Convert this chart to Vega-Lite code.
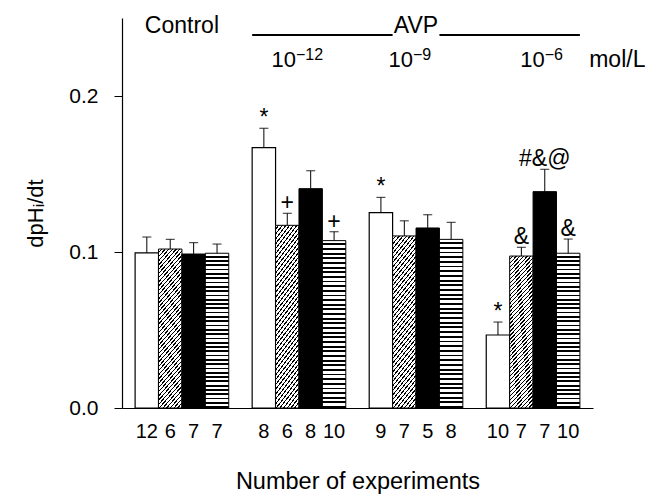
{
  "$schema": "https://vega.github.io/schema/vega-lite/v6.json",
  "width": 471,
  "height": 390,
  "autosize": {"type": "none"},
  "padding": {"left": 122, "top": 18, "right": 57, "bottom": 86},
  "config": {"font": "Liberation Sans", "view": {"stroke": null}},
  "datasets": {
    "bars": [
      {"slot": "Control:white:12", "pattern": "white", "mean": 0.0994, "hi": 0.1096, "sig": ""},
      {"slot": "Control:diag:6", "pattern": "diag", "mean": 0.1019, "hi": 0.1081, "sig": ""},
      {"slot": "Control:black:7", "pattern": "black", "mean": 0.0987, "hi": 0.106, "sig": ""},
      {"slot": "Control:horiz:7", "pattern": "horiz", "mean": 0.0992, "hi": 0.1051, "sig": ""},
      {"slot": "1e-12:white:8", "pattern": "white", "mean": 0.1669, "hi": 0.1793, "sig": "*"},
      {"slot": "1e-12:diag:6", "pattern": "diag", "mean": 0.1171, "hi": 0.1248, "sig": "+"},
      {"slot": "1e-12:black:8", "pattern": "black", "mean": 0.1406, "hi": 0.1521, "sig": ""},
      {"slot": "1e-12:horiz:10", "pattern": "horiz", "mean": 0.1073, "hi": 0.113, "sig": "+"},
      {"slot": "1e-9:white:9", "pattern": "white", "mean": 0.1252, "hi": 0.135, "sig": "*"},
      {"slot": "1e-9:diag:7", "pattern": "diag", "mean": 0.1103, "hi": 0.12, "sig": ""},
      {"slot": "1e-9:black:5", "pattern": "black", "mean": 0.1154, "hi": 0.1239, "sig": ""},
      {"slot": "1e-9:horiz:8", "pattern": "horiz", "mean": 0.1081, "hi": 0.119, "sig": ""},
      {"slot": "1e-6:white:10", "pattern": "white", "mean": 0.0468, "hi": 0.0551, "sig": "*"},
      {"slot": "1e-6:diag:7", "pattern": "diag", "mean": 0.0974, "hi": 0.103, "sig": "&"},
      {"slot": "1e-6:black:7", "pattern": "black", "mean": 0.1387, "hi": 0.153, "sig": "#&@"},
      {"slot": "1e-6:horiz:10", "pattern": "horiz", "mean": 0.0992, "hi": 0.1083, "sig": "&"}
    ]
  },
  "encoding": {
    "x": {
      "field": "slot",
      "type": "nominal",
      "scale": {
        "type": "band",
        "domain": ["Control:white:12", "Control:diag:6", "Control:black:7", "Control:horiz:7", "gap1::",
                   "1e-12:white:8", "1e-12:diag:6", "1e-12:black:8", "1e-12:horiz:10", "gap2::",
                   "1e-9:white:9", "1e-9:diag:7", "1e-9:black:5", "1e-9:horiz:8", "gap3::",
                   "1e-6:white:10", "1e-6:diag:7", "1e-6:black:7", "1e-6:horiz:10"],
        "paddingInner": 0,
        "paddingOuter": 0.56
      },
      "axis": {
        "title": "Number of experiments",
        "labelExpr": "split(datum.value, ':')[2]",
        "labelAngle": 0,
        "ticks": false,
        "labelPadding": 13,
        "labelFontSize": 20,
        "labelColor": "black",
        "domainColor": "black",
        "domainWidth": 1.2,
        "titleFontSize": 23.5,
        "titleFontWeight": "normal",
        "titleColor": "black",
        "titlePadding": 28
      }
    }
  },
  "layer": [
    {
      "data": {"name": "bars"},
      "transform": [{"filter": "datum.pattern === 'white'"}],
      "mark": {"type": "bar", "fill": "white", "stroke": "black", "strokeWidth": 1.2},
      "encoding": {
        "y": {
          "field": "mean",
          "type": "quantitative",
          "scale": {"domain": [0, 0.25], "nice": false},
          "axis": {
            "title": "dpHᵢ/dt",
            "values": [0, 0.1, 0.2],
            "format": ".1f",
            "grid": false,
            "tickSize": 8,
            "tickColor": "black",
            "domainColor": "black",
            "domainWidth": 1.2,
            "labelPadding": 16,
            "labelFontSize": 21,
            "labelColor": "black",
            "titleFontSize": 22,
            "titleFontWeight": "normal",
            "titleColor": "black",
            "titlePadding": 21
          }
        }
      }
    },
    {
      "data": {"name": "bars"},
      "transform": [{"filter": "datum.pattern === 'diag'"}],
      "mark": {
        "type": "bar",
        "stroke": "black",
        "strokeWidth": 1,
        "fill": {
          "gradient": "linear", "x1": 0, "y1": 0, "x2": 0.192, "y2": 1.1365,
          "stops": [
            {"offset":0,"color":"#fff"},{"offset":0.01477,"color":"#fff"},{"offset":0.01477,"color":"#000"},{"offset":0.02273,"color":"#000"},
            {"offset":0.02273,"color":"#fff"},{"offset":0.0375,"color":"#fff"},{"offset":0.0375,"color":"#000"},{"offset":0.04545,"color":"#000"},
            {"offset":0.04545,"color":"#fff"},{"offset":0.06023,"color":"#fff"},{"offset":0.06023,"color":"#000"},{"offset":0.06818,"color":"#000"},
            {"offset":0.06818,"color":"#fff"},{"offset":0.08295,"color":"#fff"},{"offset":0.08295,"color":"#000"},{"offset":0.09091,"color":"#000"},
            {"offset":0.09091,"color":"#fff"},{"offset":0.10568,"color":"#fff"},{"offset":0.10568,"color":"#000"},{"offset":0.11364,"color":"#000"},
            {"offset":0.11364,"color":"#fff"},{"offset":0.12841,"color":"#fff"},{"offset":0.12841,"color":"#000"},{"offset":0.13636,"color":"#000"},
            {"offset":0.13636,"color":"#fff"},{"offset":0.15114,"color":"#fff"},{"offset":0.15114,"color":"#000"},{"offset":0.15909,"color":"#000"},
            {"offset":0.15909,"color":"#fff"},{"offset":0.17386,"color":"#fff"},{"offset":0.17386,"color":"#000"},{"offset":0.18182,"color":"#000"},
            {"offset":0.18182,"color":"#fff"},{"offset":0.19659,"color":"#fff"},{"offset":0.19659,"color":"#000"},{"offset":0.20455,"color":"#000"},
            {"offset":0.20455,"color":"#fff"},{"offset":0.21932,"color":"#fff"},{"offset":0.21932,"color":"#000"},{"offset":0.22727,"color":"#000"},
            {"offset":0.22727,"color":"#fff"},{"offset":0.24205,"color":"#fff"},{"offset":0.24205,"color":"#000"},{"offset":0.25,"color":"#000"},
            {"offset":0.25,"color":"#fff"},{"offset":0.26477,"color":"#fff"},{"offset":0.26477,"color":"#000"},{"offset":0.27273,"color":"#000"},
            {"offset":0.27273,"color":"#fff"},{"offset":0.2875,"color":"#fff"},{"offset":0.2875,"color":"#000"},{"offset":0.29545,"color":"#000"},
            {"offset":0.29545,"color":"#fff"},{"offset":0.31023,"color":"#fff"},{"offset":0.31023,"color":"#000"},{"offset":0.31818,"color":"#000"},
            {"offset":0.31818,"color":"#fff"},{"offset":0.33295,"color":"#fff"},{"offset":0.33295,"color":"#000"},{"offset":0.34091,"color":"#000"},
            {"offset":0.34091,"color":"#fff"},{"offset":0.35568,"color":"#fff"},{"offset":0.35568,"color":"#000"},{"offset":0.36364,"color":"#000"},
            {"offset":0.36364,"color":"#fff"},{"offset":0.37841,"color":"#fff"},{"offset":0.37841,"color":"#000"},{"offset":0.38636,"color":"#000"},
            {"offset":0.38636,"color":"#fff"},{"offset":0.40114,"color":"#fff"},{"offset":0.40114,"color":"#000"},{"offset":0.40909,"color":"#000"},
            {"offset":0.40909,"color":"#fff"},{"offset":0.42386,"color":"#fff"},{"offset":0.42386,"color":"#000"},{"offset":0.43182,"color":"#000"},
            {"offset":0.43182,"color":"#fff"},{"offset":0.44659,"color":"#fff"},{"offset":0.44659,"color":"#000"},{"offset":0.45455,"color":"#000"},
            {"offset":0.45455,"color":"#fff"},{"offset":0.46932,"color":"#fff"},{"offset":0.46932,"color":"#000"},{"offset":0.47727,"color":"#000"},
            {"offset":0.47727,"color":"#fff"},{"offset":0.49205,"color":"#fff"},{"offset":0.49205,"color":"#000"},{"offset":0.5,"color":"#000"},
            {"offset":0.5,"color":"#fff"},{"offset":0.51477,"color":"#fff"},{"offset":0.51477,"color":"#000"},{"offset":0.52273,"color":"#000"},
            {"offset":0.52273,"color":"#fff"},{"offset":0.5375,"color":"#fff"},{"offset":0.5375,"color":"#000"},{"offset":0.54545,"color":"#000"},
            {"offset":0.54545,"color":"#fff"},{"offset":0.56023,"color":"#fff"},{"offset":0.56023,"color":"#000"},{"offset":0.56818,"color":"#000"},
            {"offset":0.56818,"color":"#fff"},{"offset":0.58295,"color":"#fff"},{"offset":0.58295,"color":"#000"},{"offset":0.59091,"color":"#000"},
            {"offset":0.59091,"color":"#fff"},{"offset":0.60568,"color":"#fff"},{"offset":0.60568,"color":"#000"},{"offset":0.61364,"color":"#000"},
            {"offset":0.61364,"color":"#fff"},{"offset":0.62841,"color":"#fff"},{"offset":0.62841,"color":"#000"},{"offset":0.63636,"color":"#000"},
            {"offset":0.63636,"color":"#fff"},{"offset":0.65114,"color":"#fff"},{"offset":0.65114,"color":"#000"},{"offset":0.65909,"color":"#000"},
            {"offset":0.65909,"color":"#fff"},{"offset":0.67386,"color":"#fff"},{"offset":0.67386,"color":"#000"},{"offset":0.68182,"color":"#000"},
            {"offset":0.68182,"color":"#fff"},{"offset":0.69659,"color":"#fff"},{"offset":0.69659,"color":"#000"},{"offset":0.70455,"color":"#000"},
            {"offset":0.70455,"color":"#fff"},{"offset":0.71932,"color":"#fff"},{"offset":0.71932,"color":"#000"},{"offset":0.72727,"color":"#000"},
            {"offset":0.72727,"color":"#fff"},{"offset":0.74205,"color":"#fff"},{"offset":0.74205,"color":"#000"},{"offset":0.75,"color":"#000"},
            {"offset":0.75,"color":"#fff"},{"offset":0.76477,"color":"#fff"},{"offset":0.76477,"color":"#000"},{"offset":0.77273,"color":"#000"},
            {"offset":0.77273,"color":"#fff"},{"offset":0.7875,"color":"#fff"},{"offset":0.7875,"color":"#000"},{"offset":0.79545,"color":"#000"},
            {"offset":0.79545,"color":"#fff"},{"offset":0.81023,"color":"#fff"},{"offset":0.81023,"color":"#000"},{"offset":0.81818,"color":"#000"},
            {"offset":0.81818,"color":"#fff"},{"offset":0.83295,"color":"#fff"},{"offset":0.83295,"color":"#000"},{"offset":0.84091,"color":"#000"},
            {"offset":0.84091,"color":"#fff"},{"offset":0.85568,"color":"#fff"},{"offset":0.85568,"color":"#000"},{"offset":0.86364,"color":"#000"},
            {"offset":0.86364,"color":"#fff"},{"offset":0.87841,"color":"#fff"},{"offset":0.87841,"color":"#000"},{"offset":0.88636,"color":"#000"},
            {"offset":0.88636,"color":"#fff"},{"offset":0.90114,"color":"#fff"},{"offset":0.90114,"color":"#000"},{"offset":0.90909,"color":"#000"},
            {"offset":0.90909,"color":"#fff"},{"offset":0.92386,"color":"#fff"},{"offset":0.92386,"color":"#000"},{"offset":0.93182,"color":"#000"},
            {"offset":0.93182,"color":"#fff"},{"offset":0.94659,"color":"#fff"},{"offset":0.94659,"color":"#000"},{"offset":0.95455,"color":"#000"},
            {"offset":0.95455,"color":"#fff"},{"offset":0.96932,"color":"#fff"},{"offset":0.96932,"color":"#000"},{"offset":0.97727,"color":"#000"},
            {"offset":0.97727,"color":"#fff"},{"offset":0.99205,"color":"#fff"},{"offset":0.99205,"color":"#000"},{"offset":1,"color":"#000"}
          ]
        }
      },
      "encoding": {"y": {"field": "mean", "type": "quantitative"}}
    },
    {
      "data": {"name": "bars"},
      "transform": [{"filter": "datum.pattern === 'black'"}],
      "mark": {"type": "bar", "fill": "black", "stroke": "black", "strokeWidth": 1},
      "encoding": {"y": {"field": "mean", "type": "quantitative"}}
    },
    {
      "data": {"name": "bars"},
      "transform": [{"filter": "datum.pattern === 'horiz'"}],
      "mark": {
        "type": "bar",
        "stroke": "black",
        "strokeWidth": 1,
        "fill": {
          "gradient": "linear", "x1": 0, "y1": 0, "x2": 0, "y2": 1,
          "stops": [
            {"offset":0,"color":"#fff"},{"offset":0.01667,"color":"#fff"},{"offset":0.01667,"color":"#000"},{"offset":0.02778,"color":"#000"},
            {"offset":0.02778,"color":"#fff"},{"offset":0.04444,"color":"#fff"},{"offset":0.04444,"color":"#000"},{"offset":0.05556,"color":"#000"},
            {"offset":0.05556,"color":"#fff"},{"offset":0.07222,"color":"#fff"},{"offset":0.07222,"color":"#000"},{"offset":0.08333,"color":"#000"},
            {"offset":0.08333,"color":"#fff"},{"offset":0.1,"color":"#fff"},{"offset":0.1,"color":"#000"},{"offset":0.11111,"color":"#000"},
            {"offset":0.11111,"color":"#fff"},{"offset":0.12778,"color":"#fff"},{"offset":0.12778,"color":"#000"},{"offset":0.13889,"color":"#000"},
            {"offset":0.13889,"color":"#fff"},{"offset":0.15556,"color":"#fff"},{"offset":0.15556,"color":"#000"},{"offset":0.16667,"color":"#000"},
            {"offset":0.16667,"color":"#fff"},{"offset":0.18333,"color":"#fff"},{"offset":0.18333,"color":"#000"},{"offset":0.19444,"color":"#000"},
            {"offset":0.19444,"color":"#fff"},{"offset":0.21111,"color":"#fff"},{"offset":0.21111,"color":"#000"},{"offset":0.22222,"color":"#000"},
            {"offset":0.22222,"color":"#fff"},{"offset":0.23889,"color":"#fff"},{"offset":0.23889,"color":"#000"},{"offset":0.25,"color":"#000"},
            {"offset":0.25,"color":"#fff"},{"offset":0.26667,"color":"#fff"},{"offset":0.26667,"color":"#000"},{"offset":0.27778,"color":"#000"},
            {"offset":0.27778,"color":"#fff"},{"offset":0.29444,"color":"#fff"},{"offset":0.29444,"color":"#000"},{"offset":0.30556,"color":"#000"},
            {"offset":0.30556,"color":"#fff"},{"offset":0.32222,"color":"#fff"},{"offset":0.32222,"color":"#000"},{"offset":0.33333,"color":"#000"},
            {"offset":0.33333,"color":"#fff"},{"offset":0.35,"color":"#fff"},{"offset":0.35,"color":"#000"},{"offset":0.36111,"color":"#000"},
            {"offset":0.36111,"color":"#fff"},{"offset":0.37778,"color":"#fff"},{"offset":0.37778,"color":"#000"},{"offset":0.38889,"color":"#000"},
            {"offset":0.38889,"color":"#fff"},{"offset":0.40556,"color":"#fff"},{"offset":0.40556,"color":"#000"},{"offset":0.41667,"color":"#000"},
            {"offset":0.41667,"color":"#fff"},{"offset":0.43333,"color":"#fff"},{"offset":0.43333,"color":"#000"},{"offset":0.44444,"color":"#000"},
            {"offset":0.44444,"color":"#fff"},{"offset":0.46111,"color":"#fff"},{"offset":0.46111,"color":"#000"},{"offset":0.47222,"color":"#000"},
            {"offset":0.47222,"color":"#fff"},{"offset":0.48889,"color":"#fff"},{"offset":0.48889,"color":"#000"},{"offset":0.5,"color":"#000"},
            {"offset":0.5,"color":"#fff"},{"offset":0.51667,"color":"#fff"},{"offset":0.51667,"color":"#000"},{"offset":0.52778,"color":"#000"},
            {"offset":0.52778,"color":"#fff"},{"offset":0.54444,"color":"#fff"},{"offset":0.54444,"color":"#000"},{"offset":0.55556,"color":"#000"},
            {"offset":0.55556,"color":"#fff"},{"offset":0.57222,"color":"#fff"},{"offset":0.57222,"color":"#000"},{"offset":0.58333,"color":"#000"},
            {"offset":0.58333,"color":"#fff"},{"offset":0.6,"color":"#fff"},{"offset":0.6,"color":"#000"},{"offset":0.61111,"color":"#000"},
            {"offset":0.61111,"color":"#fff"},{"offset":0.62778,"color":"#fff"},{"offset":0.62778,"color":"#000"},{"offset":0.63889,"color":"#000"},
            {"offset":0.63889,"color":"#fff"},{"offset":0.65556,"color":"#fff"},{"offset":0.65556,"color":"#000"},{"offset":0.66667,"color":"#000"},
            {"offset":0.66667,"color":"#fff"},{"offset":0.68333,"color":"#fff"},{"offset":0.68333,"color":"#000"},{"offset":0.69444,"color":"#000"},
            {"offset":0.69444,"color":"#fff"},{"offset":0.71111,"color":"#fff"},{"offset":0.71111,"color":"#000"},{"offset":0.72222,"color":"#000"},
            {"offset":0.72222,"color":"#fff"},{"offset":0.73889,"color":"#fff"},{"offset":0.73889,"color":"#000"},{"offset":0.75,"color":"#000"},
            {"offset":0.75,"color":"#fff"},{"offset":0.76667,"color":"#fff"},{"offset":0.76667,"color":"#000"},{"offset":0.77778,"color":"#000"},
            {"offset":0.77778,"color":"#fff"},{"offset":0.79444,"color":"#fff"},{"offset":0.79444,"color":"#000"},{"offset":0.80556,"color":"#000"},
            {"offset":0.80556,"color":"#fff"},{"offset":0.82222,"color":"#fff"},{"offset":0.82222,"color":"#000"},{"offset":0.83333,"color":"#000"},
            {"offset":0.83333,"color":"#fff"},{"offset":0.85,"color":"#fff"},{"offset":0.85,"color":"#000"},{"offset":0.86111,"color":"#000"},
            {"offset":0.86111,"color":"#fff"},{"offset":0.87778,"color":"#fff"},{"offset":0.87778,"color":"#000"},{"offset":0.88889,"color":"#000"},
            {"offset":0.88889,"color":"#fff"},{"offset":0.90556,"color":"#fff"},{"offset":0.90556,"color":"#000"},{"offset":0.91667,"color":"#000"},
            {"offset":0.91667,"color":"#fff"},{"offset":0.93333,"color":"#fff"},{"offset":0.93333,"color":"#000"},{"offset":0.94444,"color":"#000"},
            {"offset":0.94444,"color":"#fff"},{"offset":0.96111,"color":"#fff"},{"offset":0.96111,"color":"#000"},{"offset":0.97222,"color":"#000"},
            {"offset":0.97222,"color":"#fff"},{"offset":0.98889,"color":"#fff"},{"offset":0.98889,"color":"#000"},{"offset":1,"color":"#000"}
          ]
        }
      },
      "encoding": {"y": {"field": "mean", "type": "quantitative"}}
    },
    {
      "data": {"name": "bars"},
      "mark": {"type": "rule", "color": "black", "strokeWidth": 1},
      "encoding": {
        "y": {"field": "mean", "type": "quantitative"},
        "y2": {"field": "hi"}
      }
    },
    {
      "data": {"name": "bars"},
      "mark": {"type": "tick", "color": "black", "size": 9, "thickness": 1.2},
      "encoding": {"y": {"field": "hi", "type": "quantitative"}}
    },
    {
      "data": {"name": "bars"},
      "mark": {"type": "text", "fontSize": 23, "baseline": "alphabetic", "dy": -3, "color": "black"},
      "encoding": {
        "y": {"field": "hi", "type": "quantitative"},
        "text": {"field": "sig"}
      }
    },
    {
      "data": {"values": [
        {"label": "Control", "slot": "Control:black:7"},
        {"label": "AVP", "slot": "1e-9:black:5"}
      ]},
      "mark": {"type": "text", "fontSize": 23, "baseline": "alphabetic", "color": "black"},
      "encoding": {
        "x": {"field": "slot", "type": "nominal", "bandPosition": 0},
        "y": {"datum": 0.2401},
        "text": {"field": "label"}
      }
    },
    {
      "data": {"values": [
        {"label": "10", "slot": "1e-12:black:8"},
        {"label": "10", "slot": "1e-9:black:5"}
      ]},
      "mark": {"type": "text", "fontSize": 22, "baseline": "alphabetic", "align": "right", "dx": -3, "color": "black"},
      "encoding": {
        "x": {"field": "slot", "type": "nominal", "bandPosition": 0},
        "y": {"datum": 0.2186},
        "text": {"field": "label"}
      }
    },
    {
      "data": {"values": [
        {"label": "−12", "slot": "1e-12:black:8"},
        {"label": "−9", "slot": "1e-9:black:5"}
      ]},
      "mark": {"type": "text", "fontSize": 16, "baseline": "alphabetic", "align": "left", "dx": -3, "dy": -7, "color": "black"},
      "encoding": {
        "x": {"field": "slot", "type": "nominal", "bandPosition": 0},
        "y": {"datum": 0.2186},
        "text": {"field": "label"}
      }
    },
    {
      "data": {"values": [{"label": "10", "slot": "1e-6:black:7"}]},
      "mark": {"type": "text", "fontSize": 22, "baseline": "alphabetic", "align": "right", "color": "black"},
      "encoding": {
        "x": {"field": "slot", "type": "nominal"},
        "y": {"datum": 0.2186},
        "text": {"field": "label"}
      }
    },
    {
      "data": {"values": [{"label": "−6", "slot": "1e-6:black:7"}]},
      "mark": {"type": "text", "fontSize": 16, "baseline": "alphabetic", "align": "left", "dy": -7, "color": "black"},
      "encoding": {
        "x": {"field": "slot", "type": "nominal"},
        "y": {"datum": 0.2186},
        "text": {"field": "label"}
      }
    },
    {
      "data": {"values": [{"label": "mol/L", "slot": "1e-6:horiz:10"}]},
      "mark": {"type": "text", "fontSize": 23, "baseline": "alphabetic", "align": "left", "dx": 21, "color": "black"},
      "encoding": {
        "x": {"field": "slot", "type": "nominal"},
        "y": {"datum": 0.2186},
        "text": {"field": "label"}
      }
    },
    {
      "data": {"values": [
        {"from": "1e-12:white:8", "to": "1e-9:white:9"},
        {"from": "1e-9:horiz:8", "to": "1e-6:horiz:10"}
      ]},
      "mark": {"type": "rule", "color": "black", "strokeWidth": 2, "xOffset": -11.7, "x2Offset": 11.7},
      "encoding": {
        "x": {"field": "from", "type": "nominal"},
        "x2": {"field": "to"},
        "y": {"datum": 0.2391}
      }
    }
  ]
}
